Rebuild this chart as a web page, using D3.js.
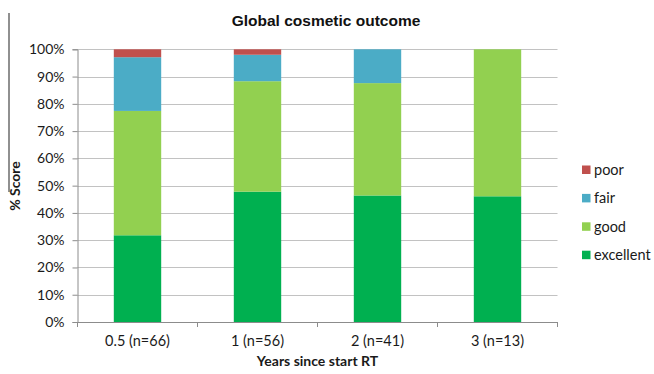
<!DOCTYPE html>
<html>
<head>
<meta charset="utf-8">
<script src="https://cdn.jsdelivr.net/npm/d3@7"></script>
<style>
  html, body { margin: 0; padding: 0; background: #fff; }
  svg { display: block; }
</style>
</head>
<body>
<div id="chart"></div>
<script>
// Share of patients per cosmetic score at each follow-up time (percent)
const categories = ["0.5 (n=66)", "1 (n=56)", "2 (n=41)", "3 (n=13)"];
const seriesNames = ["excellent", "good", "fair", "poor"];
const excellent = [31.8, 47.8, 46.4, 46.1];
const good      = [45.6, 40.5, 41.2, 53.9];
const fair      = [19.7, 9.7, 12.4, 0];
const poor      = [2.9, 2.0, 0, 0];
const yTicks = [0, 10, 20, 30, 40, 50, 60, 70, 80, 90, 100];
const colors = { excellent: "#00b050", good: "#92d050", fair: "#4bacc6", poor: "#c0504d" };

const W = 654, H = 374;
const plot = { left: 77.5, right: 557.5, top: 49.3, bottom: 322 };
const lato = "Lato, 'Open Sans', sans-serif";

const svg = d3.select("#chart").append("svg").attr("width", W).attr("height", H);

const rows = categories.map((c, i) => ({
  cat: c, excellent: excellent[i], good: good[i], fair: fair[i], poor: poor[i]
}));
const stacked = d3.stack().keys(seriesNames)(rows);

const x = d3.scaleBand().domain(categories).range([plot.left, plot.right]).padding(0);
const y = d3.scaleLinear().domain([0, 100]).range([plot.bottom, plot.top]);
const barW = x.bandwidth() * 0.395;

// frame line at the far left
svg.append("line")
  .attr("x1", 9).attr("x2", 9).attr("y1", 13).attr("y2", 192)
  .attr("stroke", "#6b6b6b").attr("stroke-width", 1.5);

// horizontal gridlines
svg.append("g").selectAll("line").data(yTicks.filter(t => t > 0)).join("line")
  .attr("x1", plot.left).attr("x2", plot.right)
  .attr("y1", d => Math.round(y(d)) + 0.5).attr("y2", d => Math.round(y(d)) + 0.5)
  .attr("stroke", "#c2c2c2").attr("stroke-width", 1.2);

// stacked bars
svg.append("g").selectAll("g").data(stacked).join("g")
  .attr("fill", s => colors[s.key])
  .selectAll("rect").data(s => s).join("rect")
  .attr("x", d => x(d.data.cat) + (x.bandwidth() - barW) / 2)
  .attr("width", barW)
  .attr("y", d => y(d[1]))
  .attr("height", d => Math.max(0, y(d[0]) - y(d[1])));

// y axis
const yAxis = svg.append("g")
  .attr("transform", `translate(${plot.left},0)`)
  .call(d3.axisLeft(y).tickValues(yTicks).tickFormat(d => d + "%").tickSize(5).tickPadding(8));
yAxis.select(".domain").attr("stroke", "#8c8c8c");
yAxis.selectAll(".tick line").attr("stroke", "#8c8c8c");
yAxis.selectAll("text").attr("font-family", lato).attr("font-size", 14).attr("fill", "#1a1a1a");

// x axis: ticks sit at the category boundaries
const xAxis = svg.append("g").attr("transform", `translate(0,${plot.bottom})`);
xAxis.append("line")
  .attr("x1", plot.left).attr("x2", plot.right).attr("y1", 0.5).attr("y2", 0.5)
  .attr("stroke", "#8c8c8c");
const bounds = categories.map(c => x(c)).concat([plot.right]);
xAxis.selectAll("line.tk").data(bounds).join("line").attr("class", "tk")
  .attr("x1", d => d).attr("x2", d => d).attr("y1", 0).attr("y2", 5)
  .attr("stroke", "#8c8c8c");
xAxis.selectAll("text").data(categories).join("text")
  .attr("x", d => x(d) + x.bandwidth() / 2)
  .attr("y", 24)
  .attr("text-anchor", "middle")
  .attr("font-family", lato).attr("font-size", 14.5).attr("fill", "#1a1a1a")
  .text(d => d);

// titles
svg.append("text")
  .attr("x", 326).attr("y", 26)
  .attr("text-anchor", "middle")
  .attr("font-family", "'Liberation Sans', Arial, sans-serif")
  .attr("font-weight", "bold").attr("font-size", 15.5).attr("fill", "#111")
  .text("Global cosmetic outcome");

svg.append("text")
  .attr("x", (plot.left + plot.right) / 2).attr("y", 366)
  .attr("text-anchor", "middle")
  .attr("font-family", lato).attr("font-weight", "bold").attr("font-size", 14).attr("fill", "#1a1a1a")
  .text("Years since start RT");

svg.append("text")
  .attr("transform", "translate(20,186) rotate(-90)")
  .attr("text-anchor", "middle")
  .attr("font-family", lato).attr("font-weight", "bold").attr("font-size", 14).attr("fill", "#1a1a1a")
  .text("% Score");

// legend, top entry is the top of the stack
const legendOrder = seriesNames.slice().reverse();
const lg = svg.append("g").selectAll("g").data(legendOrder).join("g")
  .attr("transform", (d, i) => `translate(582,${170 + i * 28.4})`);
lg.append("rect").attr("x", 0).attr("y", -4.5).attr("width", 8.5).attr("height", 8.5)
  .attr("fill", d => colors[d]);
lg.append("text").attr("x", 12).attr("y", 5)
  .attr("font-family", lato).attr("font-size", 14.5).attr("fill", "#1a1a1a")
  .text(d => d);
</script>
</body>
</html>
